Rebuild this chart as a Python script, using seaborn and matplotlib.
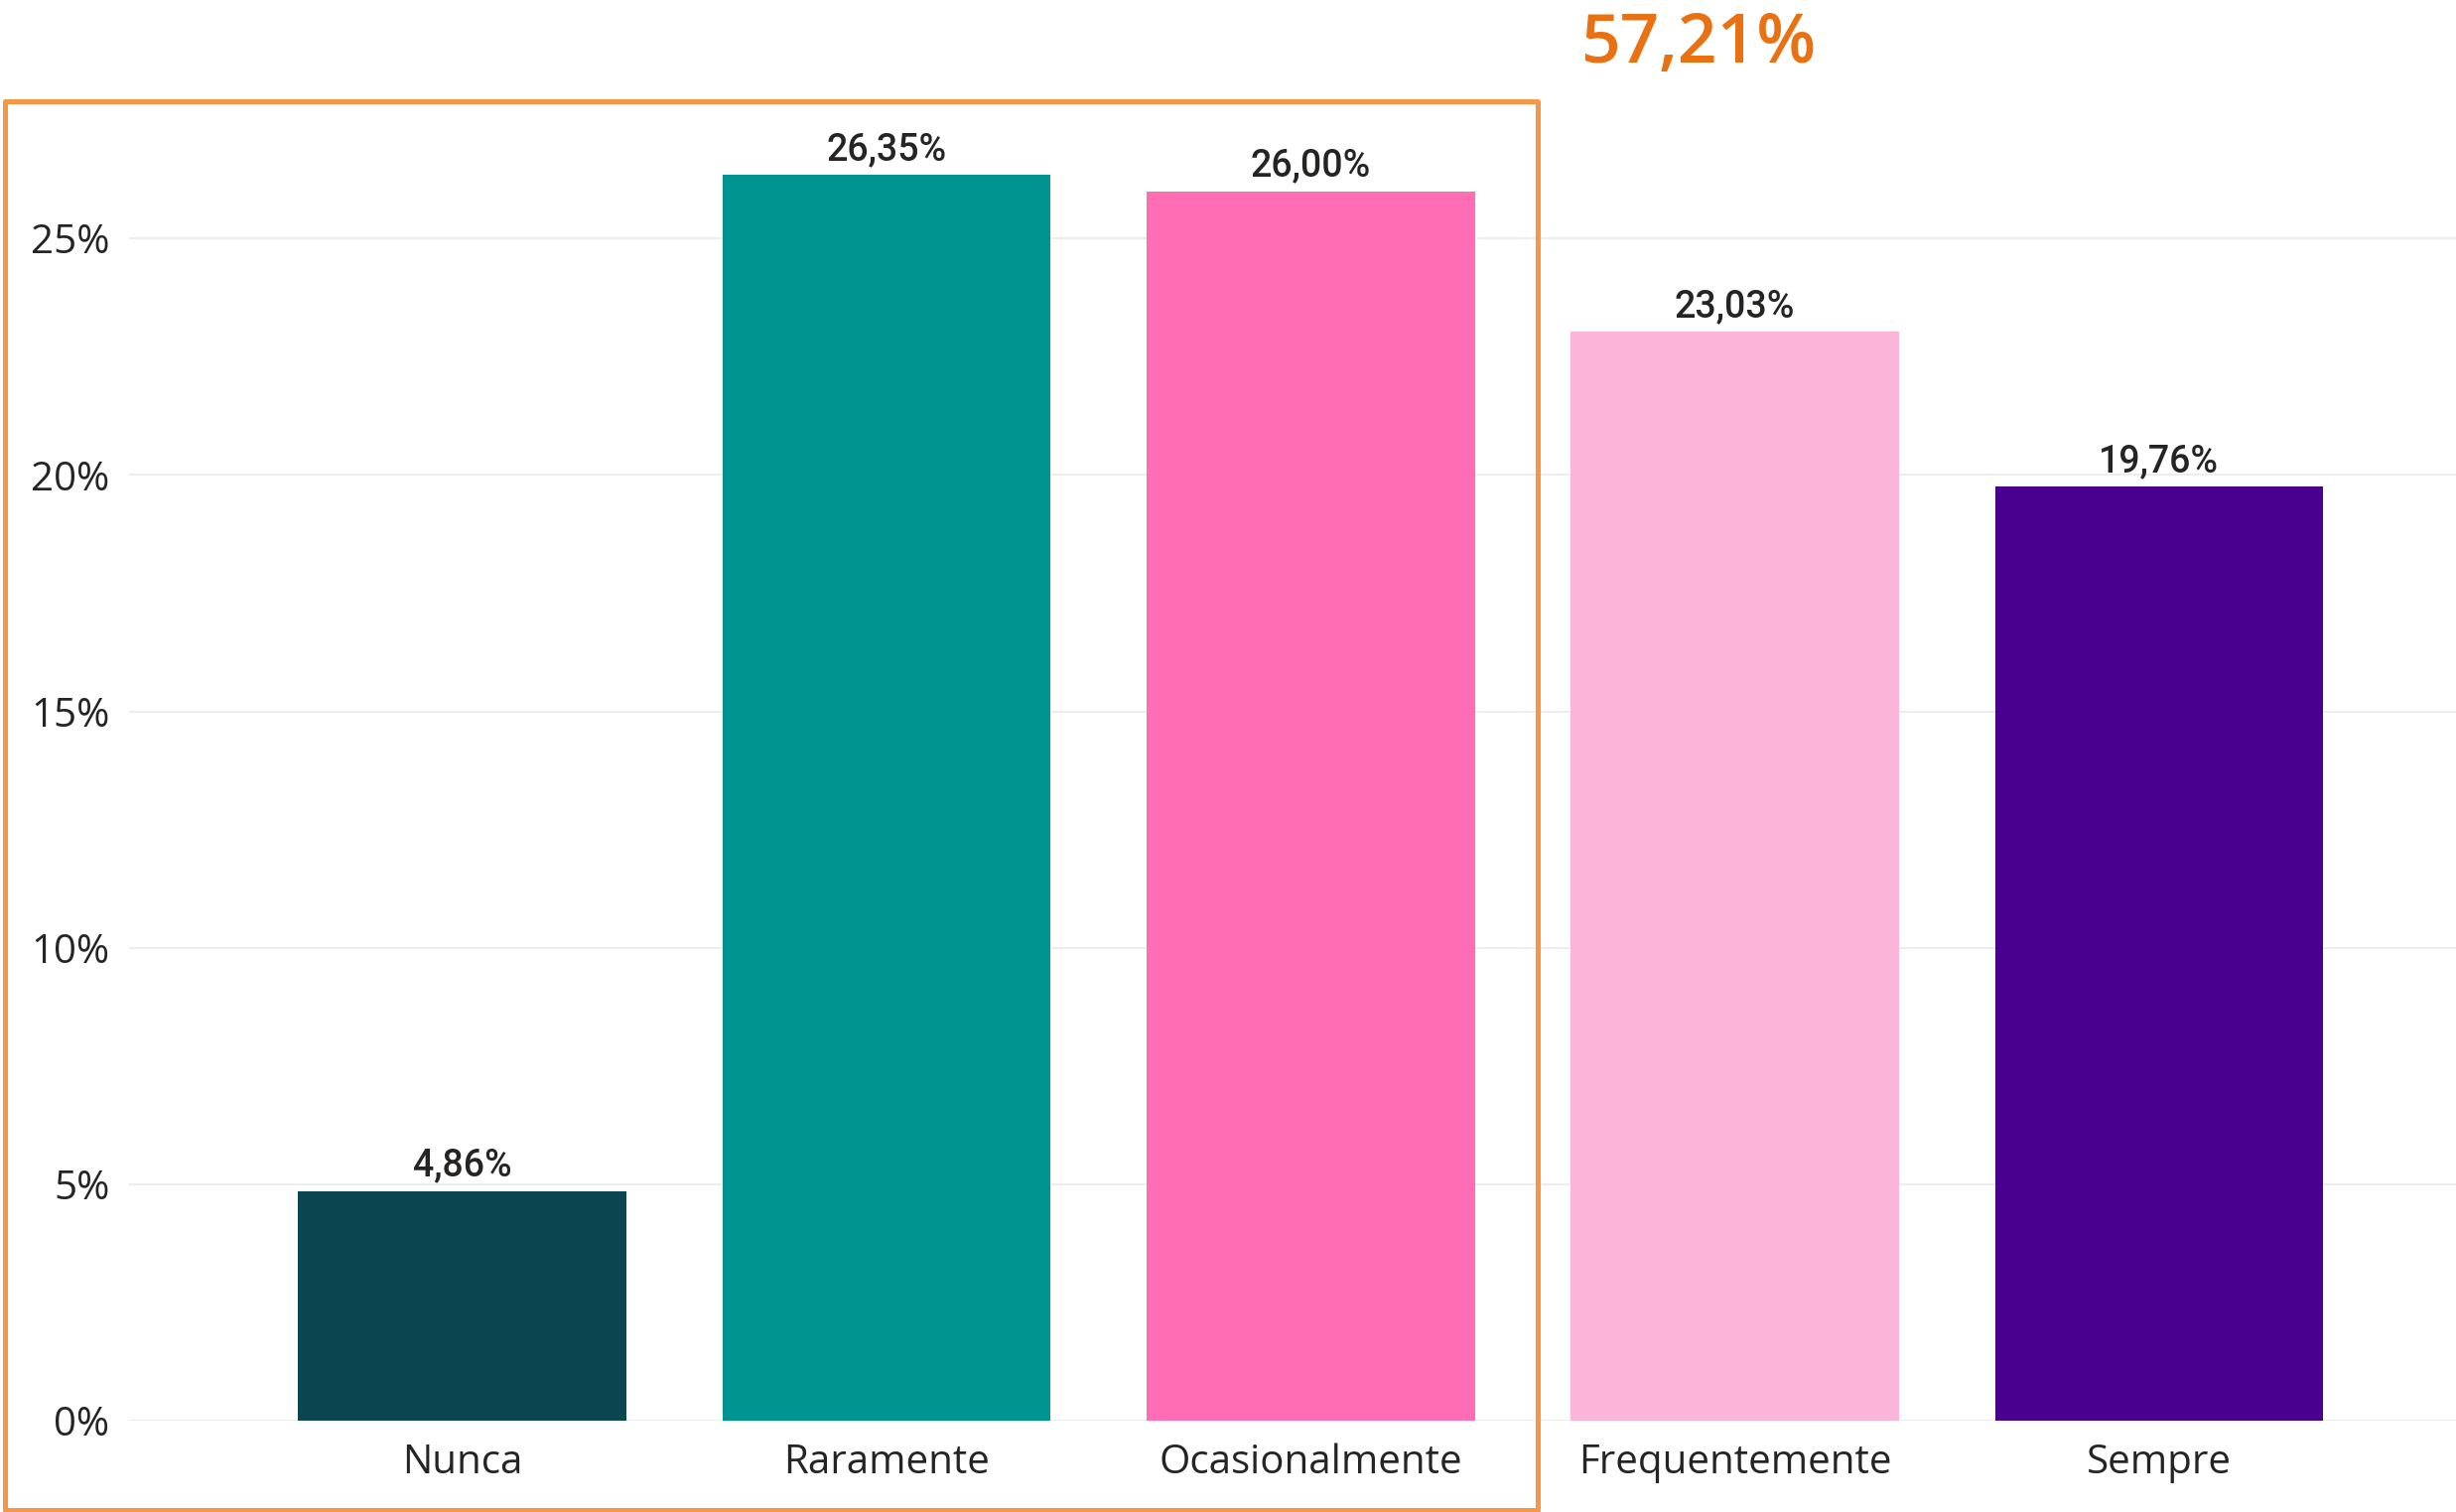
import pandas as pd
import seaborn as sns
import matplotlib.pyplot as plt
from matplotlib.patches import Rectangle

categorias = ["Nunca", "Raramente", "Ocasionalmente", "Frequentemente", "Sempre"]
percentuais = [4.86, 26.35, 26.00, 23.03, 19.76]
cores = ["#0B4650", "#009490", "#FF6EB4", "#FBB5D9", "#4A008E"]
destaque = "57,21%"
yticks = [0, 5, 10, 15, 20, 25]

df = pd.DataFrame({"Categoria": categorias, "Percentual": percentuais})

sns.set_style("white")
plt.rcParams['font.family'] = ['Open Sans', 'DejaVu Sans']

W, H = 2474, 1523
fig = plt.figure(figsize=(W / 100, H / 100), dpi=100)
ax = fig.add_axes([130 / W, (H - 1431) / H, 1 - 130 / W, (1431 - 2) / H])

sns.barplot(data=df, x="Categoria", y="Percentual", hue="Categoria",
            palette=cores, saturation=1, width=0.774, linewidth=0,
            legend=False, ax=ax)

ax.set_xlim(-0.786, 4.70)
ax.set_ylim(0, 30)
ax.set_yticks(yticks)
ax.set_yticklabels([f"{t}%" for t in yticks])
ax.set_xlabel("")
ax.set_ylabel("")
ax.grid(axis="y", color="#EDEDED", linewidth=1.5)
ax.set_axisbelow(True)
for s in ax.spines.values():
    s.set_visible(False)
ax.tick_params(axis="both", length=0, labelsize=29, colors="#252423")
ax.tick_params(axis="y", pad=14)
ax.tick_params(axis="x", pad=16)

for cont in ax.containers:
    vals = [b.get_height() for b in cont]
    ax.bar_label(cont, labels=[f"{v:.2f}%".replace(".", ",") for v in vals],
                 padding=5, fontsize=27, fontweight="medium",
                 family=["Roboto", "DejaVu Sans"], color="#252423")

# caixa de destaque
fig.patches.append(Rectangle((5 / W, (H - 1521) / H), (1549 - 5) / W, (1521 - 102) / H,
                             transform=fig.transFigure, fill=False,
                             edgecolor="#F79646", linewidth=3.6, joinstyle="round"))
fig.text(1711 / W, (H - 63) / H, destaque, ha="center", va="baseline",
         fontsize=50, fontweight="semibold", color="#E97112")

plt.savefig("out.png", dpi=100)
